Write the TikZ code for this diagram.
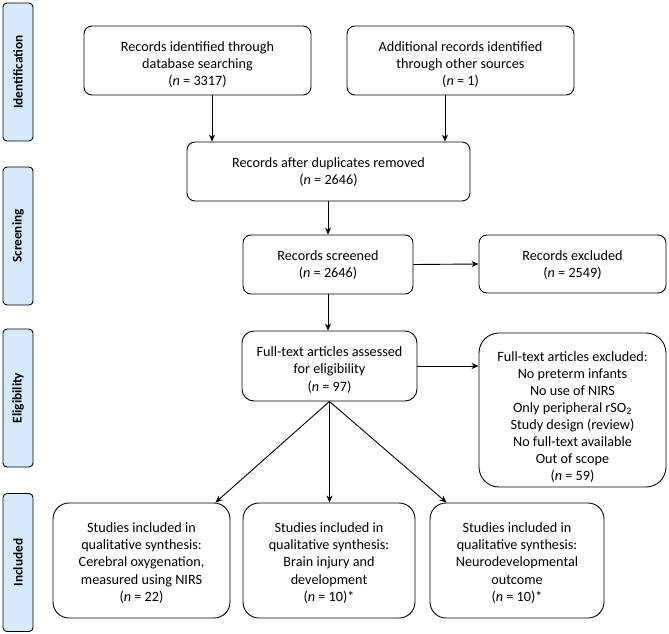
\documentclass[tikz,border=0pt]{standalone}
\usepackage{fontspec}
\setmainfont{Carlito}
\usetikzlibrary{arrows.meta}
\definecolor{barblue}{RGB}{213,234,250}
\tikzset{
  box/.style={draw=black, line width=0.9pt, rounded corners=8pt, inner sep=0pt},
  bigbox/.style={box, rounded corners=16pt},
  txt/.style={align=center, inner sep=0pt, font=\fontsize{14.2}{17.3}\selectfont},
  bar/.style={draw=black, line width=0.9pt, fill=barblue, rounded corners=4pt, minimum height=30pt,
    minimum width=138pt, font=\fontsize{13.3}{15}\selectfont\bfseries, rotate=90, inner sep=0pt},
  arr/.style={-{Stealth[length=7pt,width=6pt]}, line width=0.9pt},
}
\begin{document}
\begin{tikzpicture}[x=1pt,y=-1pt]
\useasboundingbox (0,0) rectangle (669,634);
% phase bars
\node[bar] (p1) at (18,72) {Identification};
\node[bar] (p2) at (18,236) {Screening};
\node[bar] (p3) at (18,398) {Eligibility};
\node[bar] (p4) at (18,562.5) {Included};
% boxes
\node[box, minimum width=227pt, minimum height=69pt] (b1) at (197.5,60.5) {};
\node[txt] (b1t) at ([yshift=-4pt]b1.center)
  {Records identified through\\database searching\\(\textit{n} = 3317)};
\node[box, minimum width=227pt, minimum height=69pt] (b2) at (460.5,60.5) {};
\node[txt] (b2t) at ([yshift=-4pt]b2.center)
  {Additional records identified\\through other sources\\(\textit{n} = 1)};
\node[box, minimum width=283pt, minimum height=59pt] (b3) at (328.5,171.5) {};
\node[txt] (b3t) at ([yshift=-0.5pt]b3.center)
  {Records after duplicates removed\\(\textit{n} = 2646)};
\node[box, minimum width=170pt, minimum height=59pt] (b4) at (328,264.5) {};
\node[txt] (b4t) at ([yshift=-0.5pt]b4.center)
  {Records screened\\(\textit{n} = 2646)};
\node[box, minimum width=187pt, minimum height=58pt] (ex1) at (572.5,264) {};
\node[txt] (ex1t) at ([yshift=-1pt]ex1.center)
  {Records excluded\\(\textit{n} = 2549)};
\node[box, minimum width=175pt, minimum height=70pt, rounded corners=12pt] (ft) at (329.5,366) {};
\node[txt] (ftt) at ([yshift=-4pt]ft.center)
  {Full-text articles assessed\\for eligibility\\(\textit{n} = 97)};
\node[bigbox, minimum width=187pt, minimum height=154pt, rounded corners=20pt] (ex2) at (572.5,410) {};
\node[txt, font=\fontsize{14.2}{16.9}\selectfont] (ex2t) at ([yshift=-7pt]ex2.center)
  {Full-text articles excluded:\\No preterm infants\\No use of NIRS\\Only peripheral rSO\textsubscript{2}\\Study design (review)\\No full-text available\\Out of scope\\(\textit{n} = 59)};
\node[bigbox, minimum width=177pt, minimum height=115pt] (bl) at (141.5,560.5) {};
\node[txt] (blt) at ([yshift=-2.5pt]bl.center)
  {Studies included in\\qualitative synthesis:\\Cerebral oxygenation,\\measured using NIRS\\(\textit{n} = 22)};
\node[bigbox, minimum width=172pt, minimum height=115pt] (bm) at (329,560.5) {};
\node[txt] (bmt) at ([yshift=-2.5pt]bm.center)
  {Studies included in\\qualitative synthesis:\\Brain injury and\\development\\(\textit{n} = 10)*};
\node[bigbox, minimum width=174pt, minimum height=115pt] (br) at (517,560.5) {};
\node[txt] (brt) at ([yshift=-2.5pt]br.center)
  {Studies included in\\qualitative synthesis:\\Neurodevelopmental\\outcome\\(\textit{n} = 10)*};
% connectors
\draw[arr] ([xshift=14.5pt]b1.south) -- ([xshift=14.5pt]b1.south |- b3.north);
\draw[arr] ([xshift=-15.5pt]b2.south) -- ([xshift=-15.5pt]b2.south |- b3.north);
\draw[arr] (b3.south -| b4.north) -- (b4.north);
\draw[arr] (b4.east) -- (ex1.west);
\draw[arr] (b4.south) -- (b4.south |- ft.north);
\draw[arr] (ft.east) -- (ft.east -| ex2.west);
\draw[arr] (ft.south) -- ([xshift=-15pt]bl.north east);
\draw[arr] (ft.south) -- (ft.south |- bm.north);
\draw[arr] (ft.south) -- ([xshift=17pt]br.north west);
\end{tikzpicture}
\end{document}
